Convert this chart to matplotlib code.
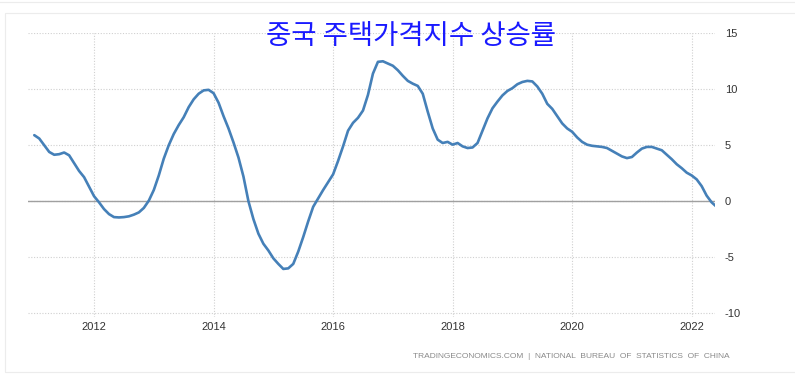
import matplotlib
matplotlib.use('Agg')
import matplotlib.pyplot as plt
import numpy as np
from matplotlib.patches import Rectangle

# 월별 주택가격지수 상승률 (2011-01 ~ 2022-06, %)
start_year = 2011
values = [
    5.9, 5.6, 5.0, 4.4, 4.15, 4.2, 4.35, 4.1, 3.4, 2.7, 2.15, 1.3,            # 2011
    0.45, -0.1, -0.7, -1.15, -1.42, -1.45, -1.42, -1.35, -1.2, -1.0, -0.6, 0.05,  # 2012
    1.0, 2.3, 3.8, 5.0, 6.0, 6.8, 7.5, 8.4, 9.1, 9.6, 9.9, 9.95,             # 2013
    9.65, 8.8, 7.6, 6.5, 5.25, 3.9, 2.2, 0.0, -1.6, -2.9, -3.8, -4.4,        # 2014
    -5.1, -5.6, -6.05, -6.0, -5.6, -4.5, -3.2, -1.8, -0.5, 0.25, 1.0, 1.7,   # 2015
    2.4, 3.6, 4.9, 6.3, 7.0, 7.45, 8.1, 9.5, 11.4, 12.45, 12.5, 12.3,        # 2016
    12.1, 11.7, 11.2, 10.75, 10.5, 10.3, 9.6, 8.0, 6.5, 5.5, 5.2, 5.3,       # 2017
    5.05, 5.2, 4.9, 4.75, 4.8, 5.2, 6.3, 7.4, 8.3, 8.9, 9.45, 9.85,          # 2018
    10.1, 10.45, 10.65, 10.75, 10.7, 10.25, 9.6, 8.7, 8.25, 7.6, 6.95, 6.5,  # 2019
    6.2, 5.7, 5.3, 5.05, 4.95, 4.9, 4.85, 4.75, 4.5, 4.25, 4.0, 3.85,        # 2020
    3.95, 4.35, 4.7, 4.85, 4.85, 4.7, 4.55, 4.15, 3.75, 3.3, 2.95, 2.55,     # 2021
    2.3, 1.95, 1.35, 0.5, -0.1, -0.5,                                        # 2022
]
x_ticks = [2012, 2014, 2016, 2018, 2020, 2022]
y_ticks = [-10, -5, 0, 5, 10, 15]
title = '중국 주택가격지수 상승률'
source = 'TRADINGECONOMICS.COM  |  NATIONAL  BUREAU  OF  STATISTICS  OF  CHINA'


def main():
    plt.rcParams['font.family'] = ['Liberation Sans', 'DejaVu Sans']
    x = start_year + np.arange(len(values)) / 12.0

    fig = plt.figure(figsize=(7.95, 3.89), dpi=100)
    W, H = 795, 389
    # 바깥 테두리
    fig.patches.append(Rectangle((5 / W, 1 - 372 / H), 1, (372 - 13) / H,
                                 transform=fig.transFigure, fill=False,
                                 edgecolor='#ececec', linewidth=0.8))
    fig.add_artist(plt.Line2D([0, 1], [1 - 2 / H, 1 - 2 / H], transform=fig.transFigure,
                              color='#ececec', linewidth=0.8))

    ax = fig.add_axes([28 / W, 1 - 316.5 / H, (715 - 28) / W, (316.5 - 33.3) / H])
    ax.plot(x, values, color='#4580b8', linewidth=1.9, solid_capstyle='round',
            solid_joinstyle='round', zorder=3)
    ax.axhline(0, color='#a0a0a0', linewidth=1.0, zorder=2)

    ax.set_xlim(2010.895, 2022.39)
    ax.set_ylim(-10.3, 15)
    ax.set_xticks(x_ticks)
    ax.set_xticklabels([str(t) for t in x_ticks])
    ax.set_yticks(y_ticks)
    ax.set_yticklabels([str(t) for t in y_ticks])
    ax.yaxis.tick_right()
    ax.tick_params(axis='both', length=0, labelsize=8, colors='#333333')
    ax.tick_params(axis='y', pad=7)
    ax.tick_params(axis='x', pad=4)
    for s in ax.spines.values():
        s.set_visible(False)
    ax.grid(True, color='#d0d0d0', linestyle=(0, (1, 1.5)), linewidth=0.8, zorder=0)

    fig.text(411 / W, 1 - 37 / H, title, ha='center', va='center', fontsize=19.8,
             color='#1a1aff', family=['Noto Sans CJK KR', 'DejaVu Sans'])
    fig.text(730 / W, 1 - 356 / H, source, ha='right', va='center', fontsize=6.0,
             color='#8a8a8a')

    fig.savefig('out.png', dpi=100, facecolor='white')
    plt.close(fig)


if __name__ == '__main__':
    main()
